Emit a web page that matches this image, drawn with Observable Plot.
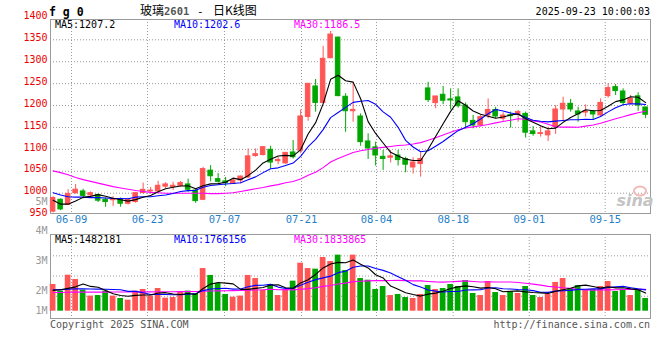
<!DOCTYPE html>
<html><head><meta charset="utf-8">
<script src="https://cdn.jsdelivr.net/npm/d3@7"></script>
<script src="https://cdn.jsdelivr.net/npm/@observablehq/plot@0.6"></script>
<style>
html,body{margin:0;padding:0;background:#fff;}
#wrap{position:relative;width:660px;height:360px;overflow:hidden;background:#fff;}
#wrap svg{position:absolute;left:0;}
</style></head><body>
<div id="wrap"></div>
<script>
// ---- data (80 daily candles, 06-04 .. 09-23) ----
const open = [958,985,973.5,1000,1004,995,996,985,984,985, 976,980,1000.5,1004,1004,1015,1014,1017,1020,1006,
  985,1051.5,1032,1027,1021,1029,1036,1085,1087,1099, 1073,1068,1093,1097,1174,1243.5,1206,1308,1355,1220,
  1187,1175,1118,1104.5,1083,1081,1086,1078,1058.7,1066.5, 1239,1205.5,1224.5,1214,1218.5,1200,1165,1154.6,1177.4,1190,
  1170,1178,1179,1181,1141,1135,1132,1150.8,1191,1204, 1186.5,1184,1185.7,1177.4,1221.5,1242,1232,1204,1221,1195.6];
const high = [992,987,1008,1020,1009,1003,998,989,992,989, 988,1002,1023,1013,1027,1024,1025,1027,1032,1010,
  1059,1063,1045,1036,1033,1039,1101,1101,1106,1107, 1082,1093,1120,1190,1250,1259.5,1335,1369,1356,1227,
  1253,1181,1135.5,1116.5,1097.5,1097.5,1097.5,1082,1081,1092, 1253,1221,1243.5,1238,1238,1206,1177.4,1177.4,1215,1196,
  1183.5,1185,1189,1185,1152,1152,1150.8,1200,1219,1214, 1196,1201.5,1189,1215,1249.6,1248,1238,1223,1229,1196];
const low = [955,960,972,998,987,992,979,968,970,968, 973,977,998,998,1001,1010,1006,1014,1002,977,
  983,1026,1023,1015,1020,1021,1033,1082,1085,1055, 1065,1066,1078,1090,1164,1185,1204,1306.6,1220,1139,
  1162,1107,1077,1062,1052,1069,1062,1046.5,1043.5,1036.7, 1207,1192.6,1202,1190,1194,1147,1147,1150.8,1170,1170,
  1163.7,1148.5,1162,1125.7,1130,1128,1118,1134,1162,1185, 1162,1173.6,1167.5,1173.6,1216.9,1223,1200,1201.6,1187,1170];
const close = [989,963,998.5,1008,994,1000,983,980,986,976, 985,1000,1007.6,1006,1017,1020,1017,1023,1008,982,
  1055,1038.7,1026,1023,1029,1038,1084,1089,1105,1070, 1076,1092,1082,1175,1249.6,1206,1306.6,1362,1221.5,1187,
  1190,1116.5,1102,1086,1078,1084,1075.5,1065,1070,1078, 1212.4,1220.7,1211,1211.6,1198.6,1162,1154.6,1173.6,1190,1175,
  1177,1175.7,1185,1138,1135,1137,1141,1191,1204,1191, 1179.7,1186.5,1179.7,1206,1239.7,1233,1206,1215.4,1200,1179];
// volume in millions of lots
const volume = [2.25,1.69,3.03,2.67,1.77,1.27,1.32,1.69,1.27,1.07, 0.93,1.69,1.83,1.27,1.91,1.10,1.15,1.63,1.69,1.49,
  3.59,3.01,2.33,1.41,1.18,1.27,3.01,2.75,1.77,2.25, 1.32,1.77,2.53,4.04,3.59,3.54,4.52,4.18,4.72,3.43,
  4.72,2.75,2.61,1.83,2.08,1.32,1.41,1.15,1.07,1.41, 2.16,1.83,1.91,2.25,2.08,2.58,1.49,1.32,2.50,1.57,
  1.32,1.66,1.49,2.08,1.32,1.15,1.41,2.42,2.75,1.91, 2.16,1.74,1.83,2.08,2.50,1.66,1.83,1.32,1.74,1.07];
// moving-average values at the left edge (they depend on days before the window)
const ma5Head = [984,975,975,982];
const ma10Head = [1001,996,992,991,991,990,990,989,988];
const ma30Head = [1051,1047,1042,1036,1031,1027,1023,1019,1015,1012,1009,1006,1004,1002,1001,1000,1000,1000,1000,1000,1000,999,999,1000,1001,1004,1007,1010,1013];
const vma5Head = [1.75,1.80,1.92,2.05];
const vma10Head = [1.80,1.82,1.85,1.88,1.88,1.87,1.86,1.85,1.83];
const vma30Head = [1.58,1.58,1.60,1.61,1.61,1.61,1.61,1.61,1.62,1.62,1.62,1.63,1.63,1.63,1.64,1.64,1.64,1.65,1.65,1.66,1.68,1.70,1.71,1.72,1.73,1.74,1.76,1.78,1.80];
// axes
const tickLabels = ["06-09","06-23","07-07","07-21","08-04","08-18","09-01","09-15"];
const tickPos = [2.45,12.58,22.85,33.12,43.12,53.34,63.48,73.61];
const priceTicks = [1400,1350,1300,1250,1200,1150,1100,1050,1000,950];
const priceGrid = [1350,1300,1250,1200,1150,1100,1050,1000];
const volTickLabels = ["5M","4M","3M","2M","1M"];
const volTickPos = [9.2,6.73,4.21,1.68,0];
const volGrid = [4.66,2.96,1.26];
const legendPrice = ["MA5:1207.2","MA10:1202.6","MA30:1186.5"];
const legendVol = ["MA5:1482181","MA10:1766156","MA30:1833865"];

// ---- build ----
const N = close.length;
function movingAvg(values, k, head){
  return values.map((v,i)=> i>=k-1 ? d3.mean(values.slice(i-k+1,i+1)) : head[i]);
}
const ma5 = movingAvg(close,5,ma5Head), ma10 = movingAvg(close,10,ma10Head), ma30 = movingAvg(close,30,ma30Head);
const vm5 = movingAvg(volume,5,vma5Head), vm10 = movingAvg(volume,10,vma10Head), vm30 = movingAvg(volume,30,vma30Head);
const RED = "#ff5555", GREEN = "#00a600";
const candles = d3.range(N).map(j=>({
  j, open:open[j], high:high[j], low:low[j], close:close[j], vol:volume[j]*1e6,
  ma5:ma5[j], ma10:ma10[j], ma30:ma30[j], vm5:vm5[j]*1e6, vm10:vm10[j]*1e6, vm30:vm30[j]*1e6,
  col: close[j] >= open[j] ? RED : GREEN
}));
const GRID = "#9a9a9a";
const FONT = "DejaVu Sans Mono, monospace";
const xOpt = {type:"linear", domain:[-0.35, N-0.35], axis:null};
const style = {background:"transparent", fontFamily:FONT, fontSize:"10px", overflow:"visible"};

const price = Plot.plot({
  width:660, height:232, marginLeft:50, marginRight:10, marginTop:19, marginBottom:19,
  style, x:xOpt, y:{domain:[953.7,1396.3], axis:null}, color:{type:"identity"},
  marks:[
    Plot.ruleY(priceGrid, {stroke:GRID, strokeDasharray:"1,2"}),
    Plot.ruleX(tickPos, {stroke:GRID, strokeDasharray:"1,2"}),
    Plot.frame({stroke:GRID}),
    Plot.ruleX(candles, {x:"j", y1:"low", y2:"high", stroke:"col", strokeWidth:1}),
    Plot.rect(candles, {x1:d=>d.j-0.3, x2:d=>d.j+0.3, y1:"open", y2:"close", fill:"col", stroke:"col", strokeWidth:1}),
    Plot.line(candles, {x:"j", y:"ma30", stroke:"#ff00ff", strokeWidth:1.1}),
    Plot.line(candles, {x:"j", y:"ma10", stroke:"#0000ff", strokeWidth:1.1}),
    Plot.line(candles, {x:"j", y:"ma5", stroke:"#000000", strokeWidth:1.1}),
    Plot.text(priceTicks, {y:d=>d, text:d=>String(d), frameAnchor:"left", dx:-3, dy:-2, textAnchor:"end", fill:"#ee0000", fontSize:10}),
    Plot.text(tickPos, {x:d=>d, text:(d,i)=>tickLabels[i], frameAnchor:"bottom", dy:9, fill:"#1f7fc9", fontSize:10.5})
  ]
});
price.style.top = "0px";

const vol = Plot.plot({
  width:660, height:140, marginLeft:50, marginRight:10, marginTop:44, marginBottom:12,
  style, x:xOpt, y:{domain:[-0.614e6, 6.456e6], axis:null}, color:{type:"identity"},
  marks:[
    Plot.ruleY(volGrid, {y:d=>d*1e6, stroke:GRID, strokeDasharray:"1,2"}),
    Plot.ruleX(tickPos, {stroke:GRID, strokeDasharray:"1,2"}),
    Plot.frame({stroke:GRID}),
    Plot.rect(candles, {x1:d=>d.j-0.38, x2:d=>d.j+0.38, y1:0, y2:"vol", fill:"col"}),
    Plot.line(candles, {x:"j", y:"vm30", stroke:"#ff00ff", strokeWidth:1.1}),
    Plot.line(candles, {x:"j", y:"vm10", stroke:"#0000ff", strokeWidth:1.1}),
    Plot.line(candles, {x:"j", y:"vm5", stroke:"#000000", strokeWidth:1.1}),
    Plot.text(volTickPos, {y:d=>d*1e6, text:(d,i)=>volTickLabels[i], frameAnchor:"left", dx:-3, textAnchor:"end", fill:"#999999", fontSize:10})
  ]
});
vol.style.top = "190px";

const wrap = document.getElementById("wrap");
wrap.appendChild(price);
wrap.appendChild(vol);

// ---- titles, legends, footer ----
const ns = "http://www.w3.org/2000/svg";
const over = document.createElementNS(ns, "svg");
over.setAttribute("width", 660); over.setAttribute("height", 360);
over.style.top = "0px";
function t(str, x, y, opts={}){
  const e = document.createElementNS(ns, "text");
  e.setAttribute("x", x); e.setAttribute("y", y);
  e.setAttribute("font-family", opts.family || FONT);
  e.setAttribute("font-size", opts.size || 10);
  e.setAttribute("fill", opts.fill || "#000");
  if (opts.anchor) e.setAttribute("text-anchor", opts.anchor);
  if (opts.weight) e.setAttribute("font-weight", opts.weight);
  if (opts.italic) e.setAttribute("font-style", "italic");
  e.textContent = str;
  over.appendChild(e);
}
t("f g 0", 49, 15.5, {size:11.5, weight:"bold"});
t("玻璃", 140, 15, {family:"Noto Sans CJK SC", size:12});
t("2601", 164, 15, {size:10.5, fill:"#555", weight:"bold"});
t("-", 197, 15, {size:11});
t("日K线图", 213, 15, {family:"Noto Sans CJK SC", size:12});
t("2025-09-23 10:00:03", 650, 15, {anchor:"end", size:10});
const legColors = ["#000000","#0000ff","#ff00ff"], legX = [55,174,294];
legendPrice.forEach((s,i)=>t(s, legX[i], 27.5, {fill:legColors[i]}));
legendVol.forEach((s,i)=>t(s, legX[i], 242.5, {fill:legColors[i]}));
t("Copyright 2025 SINA.COM", 50, 327.5, {fill:"#555"});
t("http://finance.sina.com.cn", 650, 327.5, {fill:"#555", anchor:"end"});
// sina watermark
const eye = document.createElementNS(ns, "ellipse");
eye.setAttribute("cx", 640); eye.setAttribute("cy", 191); eye.setAttribute("rx", 6); eye.setAttribute("ry", 4.5);
eye.setAttribute("fill", "none"); eye.setAttribute("stroke", "#f3b8b8"); eye.setAttribute("stroke-width", 2);
over.appendChild(eye);
t("sina", 635, 206, {size:16, weight:"bold", italic:true, fill:"#c4c4c4", anchor:"middle", family:"DejaVu Sans"});
wrap.appendChild(over);
</script>
</body></html>
